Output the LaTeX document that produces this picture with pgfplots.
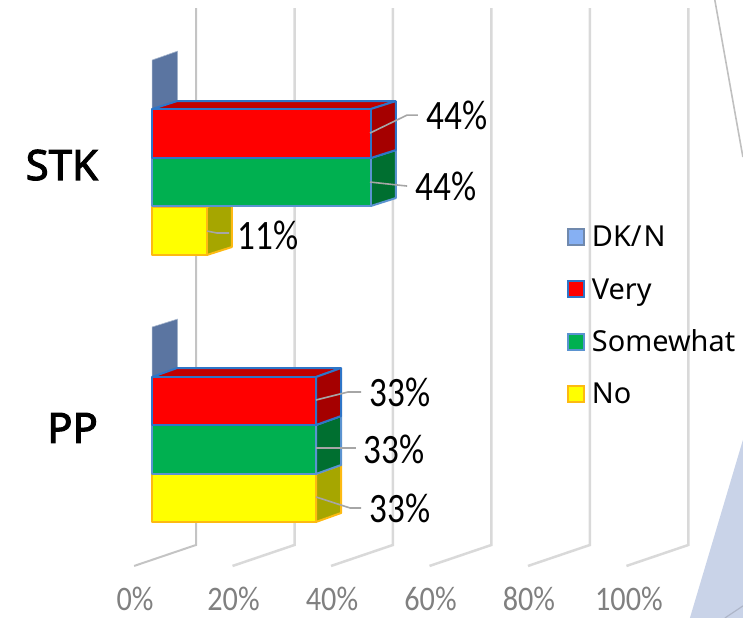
\documentclass[border=0pt]{standalone}
\usepackage{pgfplots}
\pgfplotsset{compat=1.18}
\usepackage{fontspec}
\setmainfont{Noto Sans}
\newfontfamily\boldf[FakeBold=2.5]{Noto Sans}
\newfontfamily\labf[FakeStretch=0.84]{Carlito}
\newfontfamily\tickf[FakeStretch=0.88]{Carlito}
\definecolor{gridc}{HTML}{D9D9D9}
\definecolor{gridd}{HTML}{C4C4C4}
\definecolor{leader}{HTML}{A6A6A6}
\definecolor{dkf}{HTML}{5B75A1}
\definecolor{dkl}{HTML}{86B0F3}
\definecolor{dkb}{HTML}{7089AD}
\definecolor{redb}{HTML}{2E75C8}
\definecolor{grnb}{HTML}{5B93D0}
\definecolor{yelb}{HTML}{FDBA12}
\definecolor{grn}{HTML}{00B050}
\definecolor{grns}{HTML}{006F30}
\definecolor{redf}{HTML}{FF0000}
\definecolor{yelf}{HTML}{FFFF00}
\definecolor{reds}{HTML}{A50000}
\definecolor{redt}{HTML}{C00000}
\definecolor{yels}{HTML}{A6A600}
\definecolor{bgtri}{HTML}{C9D3E8}
\definecolor{bgl}{HTML}{C0C0C0}
\definecolor{bgm}{HTML}{AEB6C8}
\pgfplotsset{
  face/.style={forget plot,line width=2bp,line join=bevel},
  redface/.style={face,fill=redf,draw=redb},
  redside/.style={face,fill=reds,draw=redb},
  redtop/.style={face,fill=redt,draw=redb},
  grnface/.style={face,fill=grn,draw=grnb},
  grnside/.style={face,fill=grns,draw=grnb},
  yelface/.style={face,fill=yelf,draw=yelb},
  yelside/.style={face,fill=yels,draw=yelb},
  dkface/.style={face,fill=dkf,draw=dkb!60!white,line width=0.6bp},
  grid0/.style={forget plot,draw=gridc,line width=2.5bp,line join=miter},
  grid1/.style={forget plot,draw=gridd,line width=2bp,line join=miter},
  lead/.style={forget plot,draw=leader,line width=1.6bp},
}
\begin{document}
\begin{tikzpicture}
\begin{axis}[
  scale only axis, width=743bp, height=618bp,
  xmin=-30.863, xmax=120, ymin=0, ymax=618,
  y dir=reverse,
  axis line style={draw=none},
  major tick length=0pt,
  xtick={-3.45,16.55,36.55,56.55,76.55,96.85},
  xticklabels={0\%,20\%,40\%,60\%,80\%,100\%},
  xticklabel pos=lower,
  xticklabel style={anchor=center,yshift=19bp,inner sep=0pt,text=black!50,font=\tickf\fontsize{34.5}{36}\selectfont},
  ytick={165,428},
  yticklabels={STK,PP},
  yticklabel style={anchor=east,xshift=98bp,inner sep=0pt,font=\boldf\fontsize{42}{46}\selectfont},
  legend style={at={(axis cs:84.26,211)},anchor=north west,draw=none,fill=none,
    inner sep=0pt,outer sep=0pt,row sep=0pt,
    nodes={inner sep=0pt,minimum height=52.3bp,anchor=west},
    font=\fontsize{29}{34}\selectfont},
  legend cell align=left,
  legend image code/.code={\draw[#1,line width=2bp] (0bp,-8bp) rectangle (16bp,8bp);},
]
% background shapes
\addplot[forget plot,fill=bgtri,draw=none] coordinates {(120,440)(109.24,618)(120,618)} --cycle;
\addplot[forget plot,draw=bgm,line width=1.2bp] coordinates {(116.35,618)(120,606)};
\addplot[forget plot,draw=bgl,line width=1.6bp] coordinates {(114.3,0)(120,157)};
% wall grid
\addplot[grid1] coordinates {(-3.65,566)(8.93,545)(8.93,8)};
\addplot[grid0] coordinates {(16.35,566)(28.93,545)(28.93,8)};
\addplot[grid0] coordinates {(36.35,566)(48.93,545)(48.93,8)};
\addplot[grid0] coordinates {(56.35,566)(68.93,545)(68.93,8)};
\addplot[grid0] coordinates {(76.35,566)(88.93,545)(88.93,8)};
\addplot[grid0] coordinates {(96.35,566)(108.93,545)(108.93,8)};
% STK
\addplot[dkface] coordinates {(0,109)(0,60)(5.2,51)(5.2,101)} --cycle;
\addplot[yelside] coordinates {(11.1,207)(16.2,199)(16.2,247)(11.1,255)} --cycle;
\addplot[yelface] coordinates {(0,207)(11.1,207)(11.1,255)(0,255)} --cycle;
\addplot[grnside] coordinates {(44.4,158)(49.5,150)(49.5,198)(44.4,206)} --cycle;
\addplot[grnface] coordinates {(0,158)(44.4,158)(44.4,206)(0,206)} --cycle;
\addplot[redtop] coordinates {(0,109)(5.1,101)(49.5,101)(44.4,109)} --cycle;
\addplot[redside] coordinates {(44.4,109)(49.5,101)(49.5,150)(44.4,158)} --cycle;
\addplot[redface] coordinates {(0,109)(44.4,109)(44.4,158)(0,158)} --cycle;
% PP
\addplot[dkface] coordinates {(0,377)(0,327)(5.2,319)(5.2,368)} --cycle;
\addplot[yelside] coordinates {(33.3,474)(38.4,465)(38.4,513)(33.3,522)} --cycle;
\addplot[yelface] coordinates {(0,474)(33.3,474)(33.3,522)(0,522)} --cycle;
\addplot[grnside] coordinates {(33.3,425)(38.4,416)(38.4,465)(33.3,474)} --cycle;
\addplot[grnface] coordinates {(0,425)(33.3,425)(33.3,474)(0,474)} --cycle;
\addplot[redtop] coordinates {(0,377)(5.1,368)(38.4,368)(33.3,377)} --cycle;
\addplot[redside] coordinates {(33.3,377)(38.4,368)(38.4,416)(33.3,425)} --cycle;
\addplot[redface] coordinates {(0,377)(33.3,377)(33.3,425)(0,425)} --cycle;
% leader lines
\addplot[lead] coordinates {(44.26,133)(51.8,115)(54.0,115)};
\addplot[lead] coordinates {(44.26,182)(51.8,186)};
\addplot[lead] coordinates {(11.17,231)(13.2,233)(15.63,233)};
\addplot[lead] coordinates {(33.3,400)(39.8,392)(42.44,392)};
\addplot[lead] coordinates {(33.3,448)(41.42,448)};
\addplot[lead] coordinates {(33.3,497)(40.2,508)(42.44,508)};
% data labels
\node[font=\labf\fontsize{42}{46}\selectfont] at (axis cs:61.93,115) {44\%};
\node[font=\labf\fontsize{42}{46}\selectfont] at (axis cs:59.70,186) {44\%};
\node[font=\labf\fontsize{42}{46}\selectfont] at (axis cs:23.55,235) {11\%};
\node[font=\labf\fontsize{42}{46}\selectfont] at (axis cs:50.36,392) {33\%};
\node[font=\labf\fontsize{42}{46}\selectfont] at (axis cs:49.14,449) {33\%};
\node[font=\labf\fontsize{42}{46}\selectfont] at (axis cs:50.36,508) {33\%};
% legend
\addlegendimage{fill=dkl,draw=dkb}
\addlegendentry{\kern7bp DK/\kern2bp N}
\addlegendimage{fill=redf,draw=redb}
\addlegendentry{\kern7bp Very}
\addlegendimage{fill=grn,draw=grnb}
\addlegendentry{\kern7bp Somewhat}
\addlegendimage{fill=yelf,draw=yelb}
\addlegendentry{\kern7bp No}
\end{axis}
\end{tikzpicture}
\end{document}
